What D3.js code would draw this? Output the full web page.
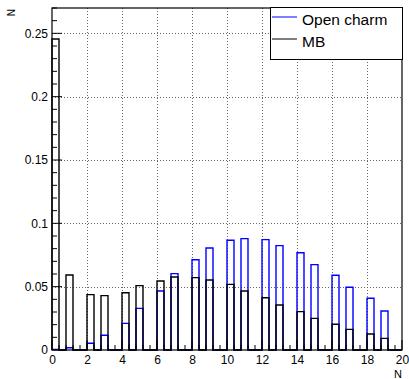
<!DOCTYPE html>
<html>
<head>
<meta charset="utf-8">
<script src="https://cdn.jsdelivr.net/npm/d3@7"></script>
<style>
  html, body { margin: 0; padding: 0; background: #fff; }
  svg { display: block; font-family: "Liberation Sans", Arial, Helvetica, sans-serif; }
</style>
</head>
<body>
<svg id="chart" width="409" height="379"></svg>
<script>
// Multiplicity N (integer values 0..19)
const multiplicity = [0,1,2,3,4,5,6,7,8,9,10,11,12,13,14,15,16,17,18,19];

// Normalised distributions per multiplicity
const openCharm = [0.0005,0.0018,0.0053,0.0116,0.021,0.0329,0.0466,0.0603,0.0713,0.0805,
                   0.0866,0.0879,0.0871,0.0824,0.0768,0.0674,0.059,0.0495,0.0408,0.0308];
const minBias   = [0.2455,0.0592,0.0437,0.0429,0.0452,0.0508,0.0545,0.0576,0.0571,0.0553,
                   0.0518,0.0466,0.0413,0.0355,0.0303,0.025,0.0203,0.0163,0.0126,0.0092];

const xTicks = [0,2,4,6,8,10,12,14,16,18,20];
const yTicks = [0,0.05,0.1,0.15,0.2,0.25];
const seriesNames = ["Open charm", "MB"];

// Histogram binning: 50 bins of width 0.4 over [0, 20]
const xMin = 0, xMax = 20, nBins = 50;
const binW = (xMax - xMin) / nBins;

const margin = {left: 52, right: 7, top: 8, bottom: 29};
const W = 409, H = 379;
const svg = d3.select("#chart");

const x = d3.scaleLinear().domain([xMin, xMax]).range([margin.left, W - margin.right]);
const y = d3.scaleLinear().domain([0, 0.27]).range([H - margin.bottom, margin.top]);

// grid
const grid = svg.append("g").attr("stroke", "#666").attr("stroke-width", 1)
  .attr("stroke-dasharray", "1,2").attr("shape-rendering", "crispEdges");
xTicks.slice(1, -1).forEach(t => {
  grid.append("line").attr("x1", Math.round(x(t)) + 0.5).attr("x2", Math.round(x(t)) + 0.5)
    .attr("y1", y.range()[1]).attr("y2", y.range()[0]);
});
yTicks.slice(1).forEach(t => {
  grid.append("line").attr("y1", Math.round(y(t)) + 0.5).attr("y2", Math.round(y(t)) + 0.5)
    .attr("x1", x.range()[0]).attr("x2", x.range()[1]);
});

// Fill a 50-bin histogram from per-multiplicity contents
function fillHist(values) {
  const contents = new Array(nBins).fill(0);
  multiplicity.forEach((n, i) => {
    const b = Math.floor((n - xMin) / binW + 1e-9);
    if (b >= 0 && b < nBins) contents[b] += values[i];
  });
  return contents;
}

// Outline of a histogram (step contour)
function histPath(contents) {
  const p = d3.path();
  p.moveTo(x(xMin), y(0));
  contents.forEach((c, b) => {
    const x0 = x(xMin + b * binW), x1 = x(xMin + (b + 1) * binW);
    p.lineTo(x0, y(c));
    p.lineTo(x1, y(c));
  });
  p.lineTo(x(xMax), y(0));
  return p.toString();
}

const colors = ["#0000ff", "#000000"];
[openCharm, minBias].forEach((vals, k) => {
  svg.append("path").attr("d", histPath(fillHist(vals)))
    .attr("fill", "none").attr("stroke", colors[k]).attr("stroke-width", 1.4);
});

// axis ticks pointing inward
const axG = svg.append("g").attr("stroke", "#000");
d3.range(0, 51).forEach(i => {
  const v = i * binW;
  const major = i % 5 === 0;
  axG.append("line").attr("x1", x(v)).attr("x2", x(v))
    .attr("y1", y(0)).attr("y2", y(0) - (major ? 10 : 5)).attr("stroke-width", 1);
});
d3.range(0, 28).forEach(i => {
  const v = i * 0.01;
  const major = i % 5 === 0;
  axG.append("line").attr("y1", y(v)).attr("y2", y(v))
    .attr("x1", x(0)).attr("x2", x(0) + (major ? 10 : 5)).attr("stroke-width", 1);
});

// frame
svg.append("rect").attr("x", x.range()[0]).attr("y", y.range()[1])
  .attr("width", x.range()[1] - x.range()[0]).attr("height", y.range()[0] - y.range()[1])
  .attr("fill", "none").attr("stroke", "#000").attr("stroke-width", 1.2);

// tick labels
const gx = svg.append("g").attr("transform", `translate(0,${y(0)})`)
  .call(d3.axisBottom(x).tickValues(xTicks).tickSize(0).tickPadding(5).tickFormat(d3.format("d")));
gx.select(".domain").remove();
gx.selectAll("text").attr("font-size", 12).attr("font-family", "Liberation Sans, Arial, sans-serif").attr("fill", "#000");

const gy = svg.append("g").attr("transform", `translate(${x(0)},0)`)
  .call(d3.axisLeft(y).tickValues(yTicks).tickSize(0).tickPadding(4).tickFormat(d => d === 0 ? "0" : String(d)));
gy.select(".domain").remove();
gy.selectAll("text").attr("font-size", 12).attr("font-family", "Liberation Sans, Arial, sans-serif").attr("fill", "#000");

// axis titles
svg.append("text").attr("x", 402).attr("y", 378).attr("text-anchor", "end")
  .attr("font-size", 11).text("N");
svg.append("text").attr("transform", "translate(15,9) rotate(-90)").attr("text-anchor", "end")
  .attr("font-size", 10).text("N");

// legend
const lg = svg.append("g");
lg.append("rect").attr("x", 270.5).attr("y", 7.5).attr("width", 132).attr("height", 52)
  .attr("fill", "#fff").attr("stroke", "#000").attr("stroke-width", 1);
const legY = [17, 39];
seriesNames.forEach((name, k) => {
  lg.append("line").attr("x1", 272).attr("x2", 297).attr("y1", legY[k]).attr("y2", legY[k])
    .attr("stroke", colors[k]).attr("stroke-width", 1);
  lg.append("text").attr("x", 302).attr("y", legY[k] + 8).attr("font-size", 15.5).text(name);
});
</script>
</body>
</html>
